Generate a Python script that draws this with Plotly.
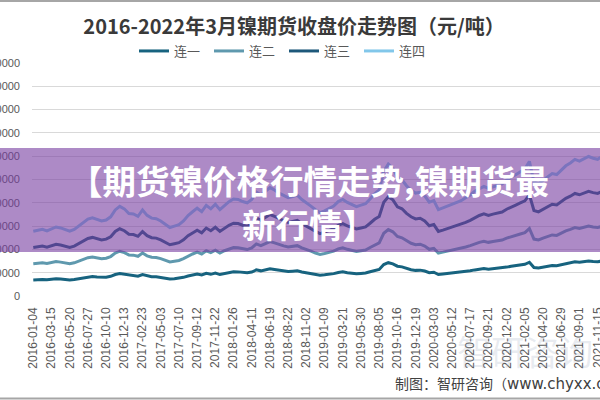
import plotly.graph_objects as go

# ---------------- data ----------------
title_text = "2016-2022年3月镍期货收盘价走势图（元/吨）"
overlay_text = "【期货镍价格行情走势,镍期货最<br>新行情】"
footer_cn = "制图：智研咨询（"
footer_en = "www.chyxx.com）"

dates = ["2016-01-04", "2016-03-15", "2016-05-20", "2016-07-27", "2016-10-10", "2016-12-13",
         "2017-02-23", "2017-05-03", "2017-07-10", "2017-09-12", "2017-11-22", "2018-01-26",
         "2018-04-11", "2018-06-19", "2018-08-22", "2018-11-02", "2019-01-09", "2019-03-21",
         "2019-05-30", "2019-08-05", "2019-10-16", "2019-12-19", "2020-03-03", "2020-05-12",
         "2020-07-17", "2020-09-21", "2020-12-02", "2021-02-05", "2021-04-20", "2021-06-29",
         "2021-09-01", "2021-11-15"]

series_names = ["连一", "连二", "连三", "连四"]

# closing prices (yuan/ton), four readings per labelled interval
lian1 = [69000, 70500, 71000, 69500, 72000, 74000, 72500, 70500, 69000, 71000, 74500, 79000,
         82000, 83500, 82000, 80000, 81000, 84500, 92000, 96000, 93000, 88000, 87500, 85000,
         92000, 86000, 83000, 82500, 80000, 76000, 73000, 74500, 76000, 80000, 86000, 90000,
         94000, 90000, 97000, 93000, 98000, 92000, 97000, 101000, 104000, 103500, 101000, 99500,
         103000, 112000, 108000, 112500, 117000, 114000, 110000, 107500, 105000, 106500, 108000, 103000,
         100000, 96000, 92000, 89000, 91000, 93000, 96000, 101000, 103500, 100000, 98000, 95500,
         97000, 98500, 104000, 110000, 114000, 135000, 143000, 138000, 128000, 125000, 118000, 113000,
         110000, 111000, 107000, 100000, 102000, 92000, 94000, 96000, 98000, 100000, 102000, 105000,
         108000, 112000, 115000, 117500, 115000, 117000, 118500, 120000, 124000, 127500, 130000, 133000,
         136000, 145000, 122000, 120000, 124000, 128000, 131000, 130000, 135000, 140000, 143000, 147000,
         145000, 148000, 150000, 148000, 147000, 150000, 152000]

lian2 = [69300, 70200, 71400, 69800, 72300, 73800, 72900, 70800, 69400, 71300, 74800, 79200,
         82300, 83800, 82400, 80300, 81400, 84800, 92300, 96200, 93400, 88300, 87900, 85400,
         92200, 86400, 83400, 82800, 80300, 76400, 73300, 74800, 76300, 80400, 86200, 90300,
         94200, 90400, 97200, 93400, 98300, 92500, 97300, 101200, 104100, 103600, 101300, 99800,
         103400, 111600, 108200, 112600, 116500, 113800, 110200, 107800, 105300, 106700, 108100, 103300,
         100200, 96300, 92400, 89300, 91300, 93400, 96300, 101200, 103600, 100300, 98200, 95800,
         97300, 98800, 104100, 109800, 113800, 134200, 142100, 137500, 127600, 124800, 118200, 113300,
         110300, 111200, 107300, 100400, 102200, 92400, 94300, 96300, 98400, 100300, 102200, 105300,
         108200, 112300, 115200, 117600, 115300, 117200, 118700, 120200, 124100, 127600, 130100, 133100,
         136200, 144600, 122300, 120300, 124200, 128100, 131200, 130200, 134900, 139800, 142800, 146700,
         144800, 147700, 149800, 147900, 146800, 149800, 151700]

lian3 = [69600, 70400, 71700, 70100, 72600, 74100, 73200, 71100, 69700, 71600, 75100, 79400,
         82600, 84100, 82700, 80600, 81700, 85100, 92500, 96300, 93700, 88600, 88200, 85700,
         92400, 86700, 83700, 83100, 80600, 76700, 73600, 75100, 76600, 80700, 86400, 90500,
         94300, 90700, 97400, 93700, 98500, 92800, 97500, 101300, 104200, 103700, 101500, 100100,
         103700, 111300, 108400, 112700, 116100, 113600, 110400, 108100, 105600, 106900, 108200, 103600,
         100400, 96600, 92700, 89600, 91600, 93700, 96600, 101400, 103700, 100600, 98400, 96100,
         97600, 99100, 104200, 109600, 113600, 133500, 141200, 137000, 127200, 124600, 118400, 113600,
         110600, 111400, 107600, 100800, 102400, 92800, 94600, 96600, 98700, 100600, 102400, 105600,
         108400, 112600, 115400, 117700, 115600, 117400, 118900, 120400, 124200, 127700, 130200, 133200,
         136400, 144200, 122600, 120600, 124400, 128200, 131400, 130400, 134800, 139600, 142600, 146400,
         144600, 147400, 149600, 147800, 146600, 149600, 151400]

lian4 = [69900, 70700, 72000, 70400, 72900, 74400, 73500, 71400, 70000, 71900, 75400, 79600,
         82900, 84400, 83000, 80900, 82000, 85400, 92700, 96400, 94000, 88900, 88500, 86000,
         92600, 87000, 84000, 83400, 80900, 77000, 73900, 75400, 76900, 81000, 86600, 90700,
         94400, 91000, 97600, 94000, 98700, 93100, 97700, 101400, 104300, 103800, 101700, 100400,
         104000, 111000, 108600, 112800, 115700, 113400, 110600, 108400, 105900, 107100, 108300, 103900,
         100600, 96900, 93000, 89900, 91900, 94000, 96900, 101600, 103800, 100900, 98600, 96400,
         97900, 99400, 104300, 109400, 113400, 132800, 140300, 136500, 126800, 124400, 118600, 113900,
         110900, 111600, 107900, 101200, 102600, 93200, 94900, 96900, 99000, 100900, 102600, 105900,
         108600, 112900, 115600, 117800, 115900, 117600, 119100, 120600, 124300, 127800, 130300, 133300,
         136600, 143800, 122900, 120900, 124600, 128300, 131600, 130600, 134700, 139400, 142400, 146100,
         144400, 147100, 149400, 147700, 146400, 149400, 151100]

readings_per_label = 4
series_values = [lian1, lian2, lian3, lian4]

# ---------------- styling ----------------
colors = ["#17637f", "#5f99ae", "#1d587a", "#82c7ea"]
W, H = 600, 400
ML, MR, MT, MB = 32, 0, 63, 104
plot_w = W - ML - MR
plot_h = H - MT - MB


def py(px):  # pixel row -> paper y
    return (H - MB - px) / plot_h


def pxx(px):  # pixel column -> paper x
    return (px - ML) / plot_w


fig = go.Figure()
for name, vals, col in zip(series_names, series_values, colors):
    fig.add_trace(go.Scatter(
        x=[k / readings_per_label for k in range(len(vals))],
        y=vals, name=name, mode="lines",
        stackgroup="one", fill="none",
        line=dict(color=col, width=3),
    ))

fig.update_layout(
    width=W, height=H,
    margin=dict(l=ML, r=MR, t=MT, b=MB, pad=0),
    paper_bgcolor="white", plot_bgcolor="white",
    font=dict(family="Noto Sans CJK SC, Liberation Sans, sans-serif", color="#595959"),
    title=dict(text="<b>" + title_text + "</b>", x=0.49, xanchor="center",
               y=1 - 27 / H, yanchor="middle",
               font=dict(size=20, color="#3a3a3a", family="Noto Sans CJK SC")),
    legend=dict(orientation="h", x=pxx(134), xanchor="left", y=py(51), yanchor="middle",
                font=dict(size=13, color="#595959", family="Noto Sans CJK SC"),
                bgcolor="rgba(0,0,0,0)", entrywidth=30, traceorder="normal"),
    xaxis=dict(range=[-0.071, 31.128], tickmode="array",
               tickvals=list(range(len(dates))), ticktext=dates,
               tickangle=-90, showgrid=False, zeroline=False, showline=False,
               ticks="", automargin=False, ticklabelstandoff=8,
               ticklabeloverflow="allow",
               tickfont=dict(size=12, family="Liberation Sans", color="#595959")),
    yaxis=dict(range=[0, 1000000], dtick=100000, tick0=0, tickformat="d",
               gridcolor="#d9d9d9", gridwidth=1, zeroline=False, showline=False,
               ticks="", automargin=False, ticklabelstandoff=11,
               ticklabeloverflow="allow",
               tickfont=dict(size=11, family="Liberation Sans", color="#595959")),
    shapes=[
        dict(type="rect", xref="paper", yref="paper", x0=-0.07, x1=1.02,
             y0=py(252), y1=py(148), fillcolor="rgba(118,60,160,0.60)",
             line=dict(width=0), layer="above"),
        dict(type="line", xref="paper", yref="paper", x0=-0.07, x1=1.02,
             y0=py(1), y1=py(1), line=dict(color="#a6a6a6", width=2)),
        dict(type="line", xref="paper", yref="paper", x0=-0.07, x1=1.02,
             y0=py(398.5), y1=py(398.5), line=dict(color="#a6a6a6", width=2)),
    ],
    annotations=[
        dict(text="<b>" + overlay_text + "</b>", xref="paper", yref="paper",
             x=pxx(309), y=py(201), xanchor="center", yanchor="middle",
             showarrow=False, align="center",
             font=dict(size=33.5, color="white", family="Noto Sans CJK SC")),
        dict(text="智研咨询", xref="paper", yref="paper", x=pxx(525), y=py(350),
             xanchor="center", yanchor="middle", showarrow=False,
             font=dict(size=34, color="rgba(150,165,190,0.22)", family="Noto Sans CJK SC")),
        dict(text=footer_cn + "<span style=\"font-family:DejaVu Sans;font-size:15px\">"
             + footer_en + "</span>",
             xref="paper", yref="paper", x=pxx(393), y=py(383),
             xanchor="left", yanchor="middle", showarrow=False,
             font=dict(size=14, color="#404040", family="Noto Sans CJK SC")),
    ],
)

fig.write_html("out.html")
